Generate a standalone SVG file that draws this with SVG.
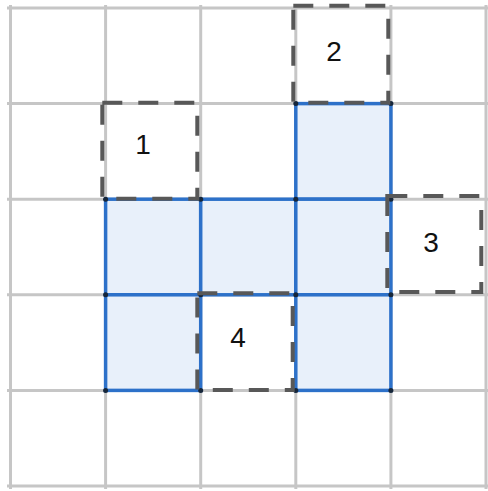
<svg xmlns="http://www.w3.org/2000/svg" width="488" height="491" viewBox="0 0 488 491">
<style>
.grid line{stroke:#c6c6c6;stroke-width:3}
.cell{fill:#e8f0fa;stroke:#2d71c9;stroke-width:3.5}
.vtx{fill:#16263a}
.dash{fill:none;stroke:#585858;stroke-width:4;stroke-dasharray:20 16}
.lbl{font-family:"Liberation Sans",Arial,sans-serif;font-size:28px;fill:#111;text-anchor:middle}
</style>
<rect width="488" height="491" fill="#fff"/>
<g id="grid" class="grid">
<line x1="10.5" y1="5" x2="10.5" y2="489"/>
<line x1="105.6" y1="5" x2="105.6" y2="489"/>
<line x1="200.7" y1="5" x2="200.7" y2="489"/>
<line x1="295.8" y1="5" x2="295.8" y2="489"/>
<line x1="390.9" y1="5" x2="390.9" y2="489"/>
<line x1="486" y1="5" x2="486" y2="489"/>
<line x1="7" y1="8" x2="488" y2="8"/>
<line x1="7" y1="103.6" x2="488" y2="103.6"/>
<line x1="7" y1="199.2" x2="488" y2="199.2"/>
<line x1="7" y1="294.8" x2="488" y2="294.8"/>
<line x1="7" y1="390.4" x2="488" y2="390.4"/>
<line x1="7" y1="486" x2="488" y2="486"/>
</g>
<g id="shape">
<rect class="cell" x="295.8" y="103.6" width="95.1" height="95.6"/>
<rect class="cell" x="105.6" y="199.2" width="95.1" height="95.6"/>
<rect class="cell" x="200.7" y="199.2" width="95.1" height="95.6"/>
<rect class="cell" x="295.8" y="199.2" width="95.1" height="95.6"/>
<rect class="cell" x="105.6" y="294.8" width="95.1" height="95.6"/>
<rect class="cell" x="295.8" y="294.8" width="95.1" height="95.6"/>
<g class="vtx">
<circle cx="295.8" cy="103.6" r="2.5"/><circle cx="390.9" cy="103.6" r="2.5"/>
<circle cx="105.6" cy="199.2" r="2.5"/><circle cx="200.7" cy="199.2" r="2.5"/><circle cx="295.8" cy="199.2" r="2.5"/><circle cx="390.9" cy="199.2" r="2.5"/>
<circle cx="105.6" cy="294.8" r="2.5"/><circle cx="200.7" cy="294.8" r="2.5"/><circle cx="295.8" cy="294.8" r="2.5"/><circle cx="390.9" cy="294.8" r="2.5"/>
<circle cx="105.6" cy="390.4" r="2.5"/><circle cx="200.7" cy="390.4" r="2.5"/><circle cx="295.8" cy="390.4" r="2.5"/><circle cx="390.9" cy="390.4" r="2.5"/>
</g>
</g>
<g id="square1">
<rect class="dash" x="102.3" y="102.7" width="95" height="96"/>
<text class="lbl" x="143" y="154">1</text>
</g>
<g id="square2">
<rect class="dash" x="293.3" y="5.7" width="95" height="97"/>
<text class="lbl" x="334" y="61.3">2</text>
</g>
<g id="square3">
<rect class="dash" x="387.3" y="196" width="94" height="96"/>
<text class="lbl" x="431" y="252">3</text>
</g>
<g id="square4">
<rect class="dash" x="197.3" y="293.3" width="95.4" height="96.7"/>
<text class="lbl" x="238" y="347">4</text>
</g>
</svg>
